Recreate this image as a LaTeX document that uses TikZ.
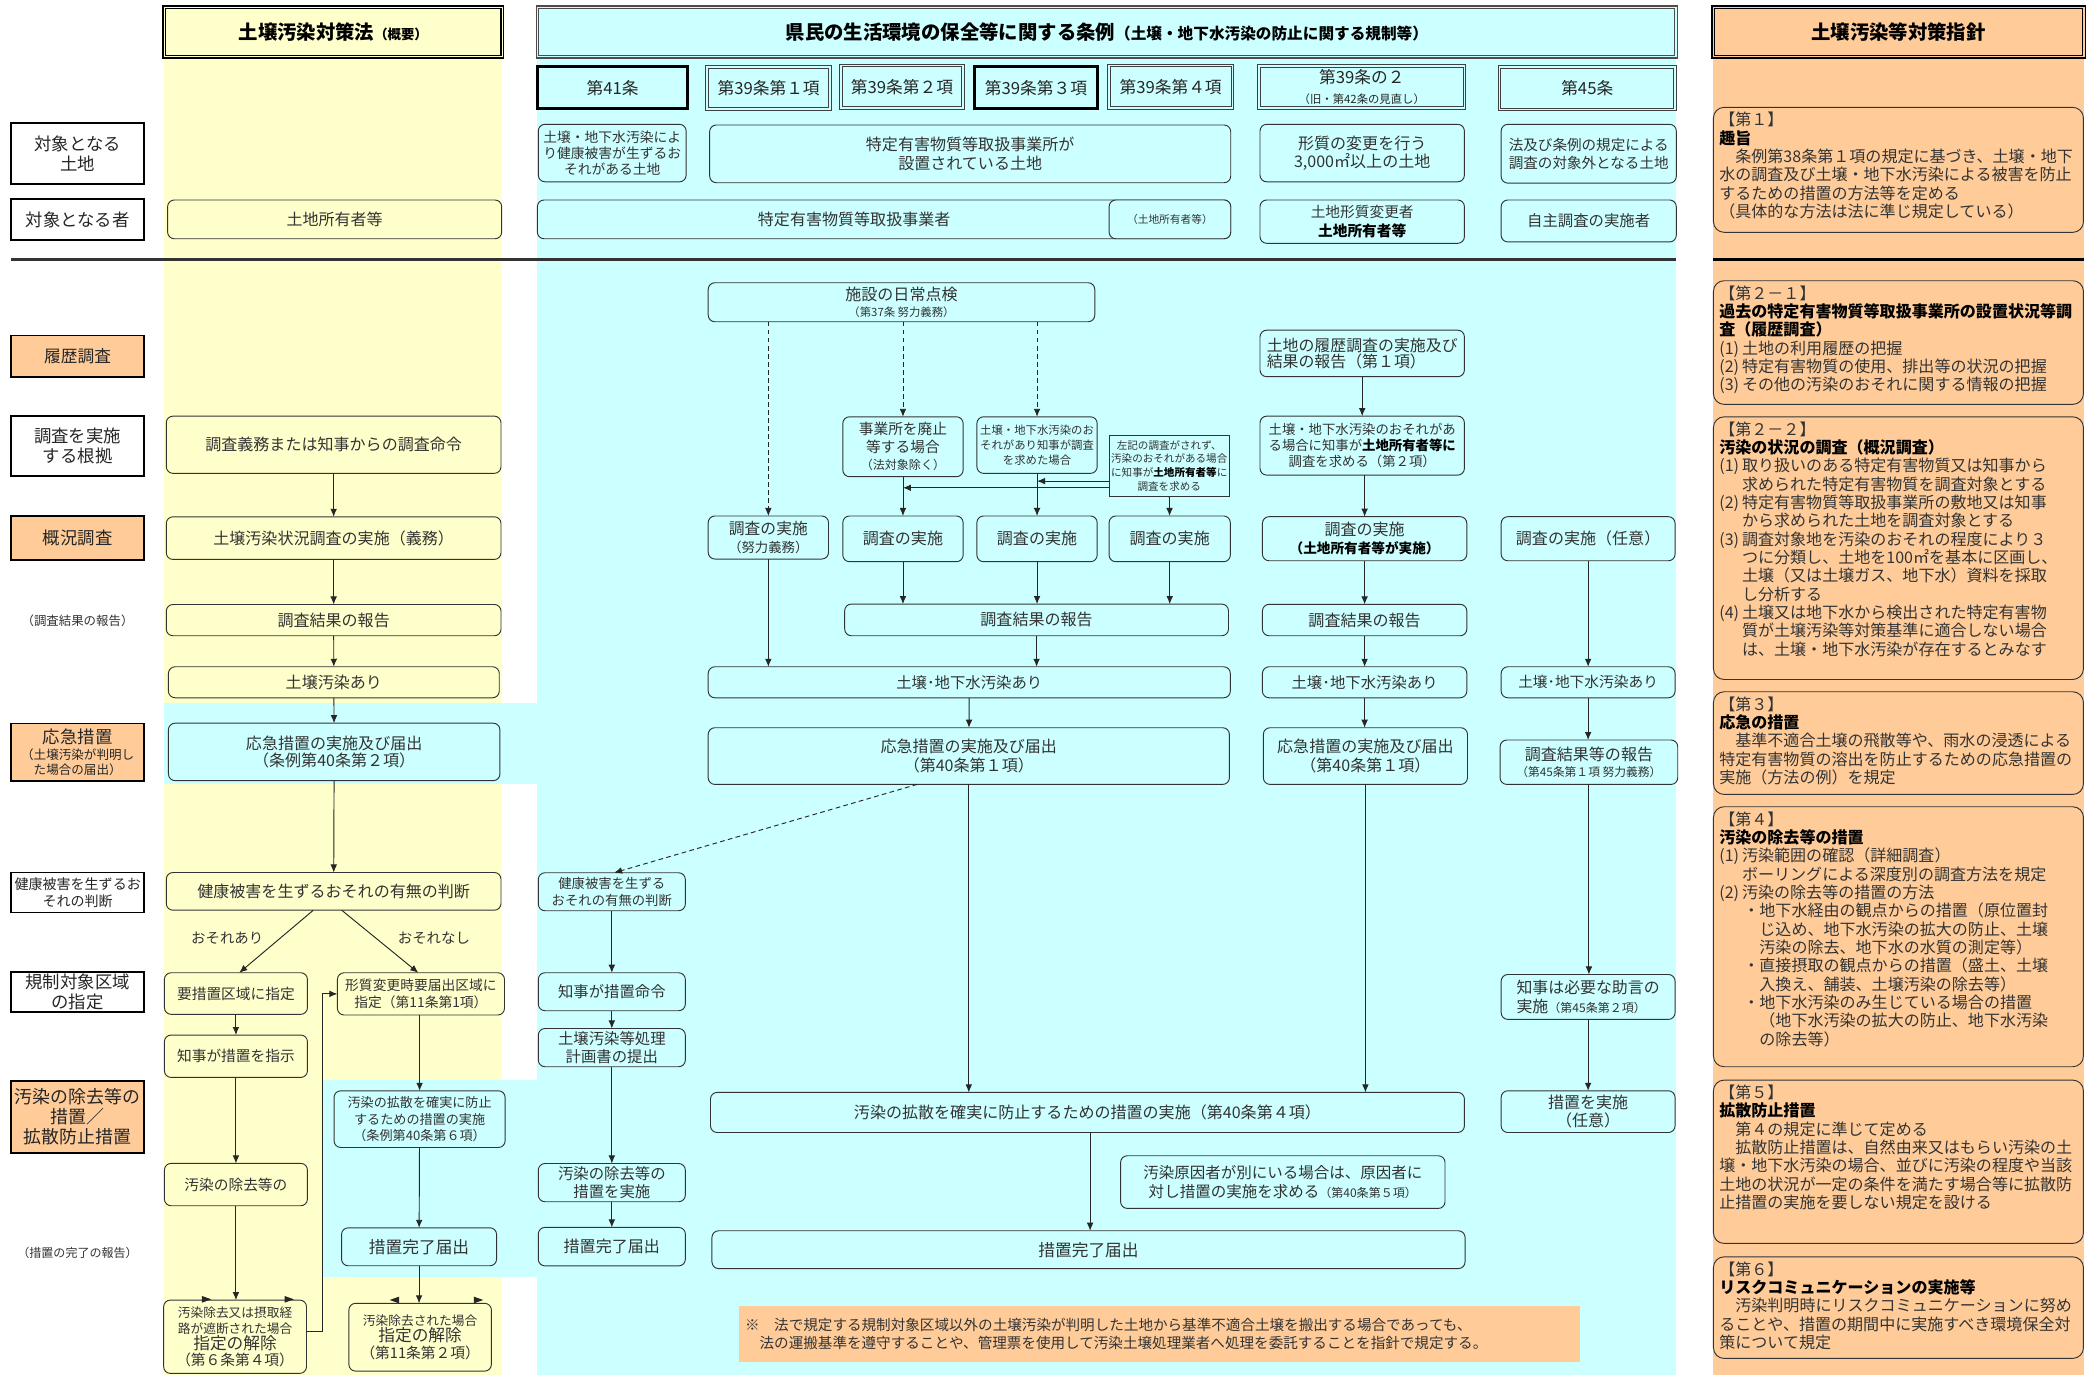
\documentclass[tikz,border=0pt]{standalone}
\usepackage{fontspec}
\setmainfont{Noto Sans CJK JP}
\usetikzlibrary{arrows.meta}
\definecolor{ycol}{HTML}{FFFFCC}
\definecolor{ccol}{HTML}{CCFFFF}
\definecolor{ocol}{HTML}{FFCC99}
\newcommand\fsz[2]{\fontsize{#1}{#2}\selectfont}
\newcommand\mybox[7]{\node[#6, minimum width={(#4)-(#2)}, minimum height={(#5)-(#3)}] (#1) at ({((#2)+(#4))/2},{((#3)+(#5))/2}) {#7};}
\newcommand\numlab[1]{\makebox[17pt][l]{#1}}
\newcommand\indA{\hspace*{17pt}}
\tikzset{
 bx/.style={draw=black!80, line width=0.7pt, rounded corners=5pt, inner sep=0.5pt, outer sep=0pt, align=center, text=black!80, font=\fsz{12}{14}},
 yb/.style={bx, fill=ycol},
 cb/.style={bx, fill=ccol},
 ob/.style={bx, fill=ocol, rounded corners=8pt},
 lab/.style={draw=black, line width=1.4pt, fill=white, inner sep=0.5pt, outer sep=0pt, align=center, text=black!85, font=\fsz{13}{15}},
 labo/.style={lab, fill=ocol},
 hdr/.style={draw=black, line width=1.1pt, double distance=0.8pt, inner sep=0pt, outer sep=0pt, align=center, text=black, font=\bfseries\fsz{14.5}{16}},
 hdrc/.style={draw=black!70, line width=0.8pt, double distance=1.2pt, inner sep=0pt, outer sep=0pt, align=center, text=black, font=\bfseries\fsz{14.5}{16}},
 artd/.style={draw=black!75, line width=0.7pt, double=ccol, double distance=1.3pt, fill=ccol, inner sep=0pt, outer sep=0pt, align=center, text=black!85, font=\fsz{12.5}{14}},
 artt/.style={draw=black, line width=2.2pt, fill=ccol, inner sep=0pt, outer sep=0pt, align=center, text=black!85, font=\fsz{12.5}{14}},
 arr/.style={draw=black!85, line width=0.7pt, -{Latex[length=6pt,width=5pt]}},
 darr/.style={arr, dash pattern=on 3.5pt off 2.5pt},
 plain/.style={inner sep=0pt, align=center, text=black!80},
 rtxt/.style={anchor=north west, inner sep=0pt, align=left, text=black!80, font=\fsz{12}{13.7}},
}
\begin{document}
\begin{tikzpicture}[x=1pt,y=-1pt]
\useasboundingbox (0,0) rectangle (1568,1028.6);
\fill[white] (0,0) rectangle (1568,1028.6);
% column backgrounds
\fill[ycol] (123,42) rectangle (375.6,1028.6);
\fill[ccol] (402,42) rectangle (1254,1028.6);
\fill[ocol] (1281.5,42) rectangle (1559,1028.6);
\fill[ccol] (123,526.2) rectangle (402,586.8);
\fill[ccol] (241,808) rectangle (402,955);
% separators
\draw[line width=2.5pt, black!80] (8.5,194) -- (1254,194);
\draw[line width=2.5pt, black] (1281.5,194) -- (1559,194);
% headers
\mybox{yhdr}{123}{5.5}{375.6}{42.4}{hdr, fill=ycol, double=ycol}{土壌汚染対策法{\fsz{10}{12}（概要）}}
\mybox{chdr}{402}{5.5}{1254}{42.4}{hdrc, fill=ccol, double=ccol}{県民の生活環境の保全等に関する条例{\fsz{11.7}{13}（土壌・地下水汚染の防止に関する規制等）}}
\mybox{ohdr}{1281.5}{5.5}{1559}{42.4}{hdr, fill=ocol, double=ocol}{土壌汚染等対策指針}
% article headers
\mybox{a41}{402}{50}{514.5}{81.5}{artt}{第41条}
\mybox{a391}{529}{50}{621}{81.5}{artd}{第39条第１項}
\mybox{a392}{629}{49}{720.5}{81}{artd}{第39条第２項}
\mybox{a393}{729}{50}{821}{81.5}{artt}{第39条第３項}
\mybox{a394}{829.5}{49}{922}{81}{artd}{第39条第４項}
\mybox{a3902}{942}{49.4}{1095.5}{81}{artd}{第39条の２\\[1pt]{\fsz{8.5}{10}（旧・第42条の見直し）}}
\mybox{a45}{1121.7}{50}{1253.1}{82}{artd}{第45条}
% left labels
\mybox{L1}{8.5}{92.3}{107.7}{137.7}{lab}{対象となる\\土地}
\mybox{L2}{8.5}{149}{107.7}{179.6}{lab}{対象となる者}
\mybox{L3}{8.5}{251}{107.7}{282}{labo, font=\fsz{12.5}{14}}{履歴調査}
\mybox{L4}{8.5}{311}{107.7}{356}{lab}{調査を実施\\する根拠}
\mybox{L5}{8.5}{386}{107.7}{419}{labo}{概況調査}
\node[plain, font=\fsz{9.3}{11}] (L6) at (58,464.6) {（調査結果の報告）};
\mybox{L7}{8.5}{541.2}{107.7}{584.1}{labo, font=\fsz{9.4}{11}}{{\fsz{13}{14}応急措置}\\[1.3pt]（土壌汚染が判明し\\た場合の届出）}
\mybox{L8}{8.5}{652.7}{107.7}{682.6}{lab, font=\fsz{10.5}{12.5}}{健康被害を生ずるお\\それの判断}
\mybox{L9}{8.5}{727}{107.7}{757}{lab}{規制対象区域\\の指定}
\mybox{L10}{8.5}{808.5}{107.7}{862.8}{labo, font=\fsz{13.4}{15}}{汚染の除去等の\\措置／\\拡散防止措置}
\node[plain, font=\fsz{9}{11}] (L11) at (58,937) {（措置の完了の報告）};
% top rows
\mybox{l41}{402.7}{93}{513.3}{136}{cb, font=\fsz{10.3}{12}}{土壌・地下水汚染によ\\り健康被害が生ずるお\\それがある土地}
\mybox{l39}{530.9}{93.5}{920.7}{136.7}{cb, font=\fsz{12}{14.5}}{特定有害物質等取扱事業所が\\設置されている土地}
\mybox{l392}{942.6}{93}{1095.5}{136}{cb, font=\fsz{12}{13.7}}{形質の変更を行う\\3,000㎡以上の土地}
\mybox{l45}{1123}{93}{1254}{137}{cb, font=\fsz{10.9}{13.7}}{法及び条例の規定による\\調査の対象外となる土地}
\mybox{yown}{125.4}{149.6}{375.3}{178.6}{yb}{土地所有者等}
\mybox{c39p}{402}{149.6}{920.7}{178.6}{cb}{}
\node[plain, font=\fsz{12}{14}] (c39t) at (639,164.1) {特定有害物質等取扱事業者};
\mybox{c39o}{829.7}{149.6}{920.7}{178.6}{cb, font=\fsz{8}{10}}{（土地所有者等）}
\mybox{c392p}{942.6}{149.6}{1095.5}{182}{cb, font=\fsz{11}{13.7}}{土地形質変更者\\{\bfseries\color{black}土地所有者等}}
\mybox{c45p}{1123}{149.6}{1254}{181}{cb, font=\fsz{11.5}{14}}{自主調査の実施者}
% yellow flow
\mybox{y1}{124.4}{311.3}{374.8}{354.1}{yb}{調査義務または知事からの調査命令}
\mybox{y2}{124.4}{386.6}{374.8}{418.5}{yb}{土壌汚染状況調査の実施（義務）}
\mybox{y3}{124.4}{452.2}{374.8}{475.6}{yb}{調査結果の報告}
\mybox{y4}{126}{498.8}{373.5}{522}{yb}{土壌汚染あり}
\mybox{y5}{126}{541}{374}{584}{cb, font=\fsz{12}{13}}{応急措置の実施及び届出\\（条例第40条第２項）}
\mybox{y6}{124.4}{652.7}{374.8}{680.9}{yb}{健康被害を生ずるおそれの有無の判断}
\node[plain, font=\fsz{10.8}{12}] (yari) at (170,702) {おそれあり};
\node[plain, font=\fsz{10.8}{12}] (ynashi) at (324.6,702) {おそれなし};
\mybox{y7}{123}{727.7}{230}{758.8}{yb, font=\fsz{11}{13}}{要措置区域に指定}
\mybox{y8}{252.4}{727.7}{377.4}{759.3}{yb, font=\fsz{10.3}{13}}{形質変更時要届出区域に\\指定（第11条第1項）}
\mybox{y9}{123}{774.3}{230}{806}{yb, font=\fsz{11}{13}}{知事が措置を指示}
\mybox{y10}{123}{870.3}{230}{902}{yb, font=\fsz{11}{13}}{汚染の除去等の}
\mybox{y11}{122.4}{972.6}{229.3}{1027.4}{yb, font=\fsz{9.5}{12}}{汚染除去又は摂取経\\路が遮断された場合\\{\fsz{12.5}{13}指定の解除}\\{\fsz{11}{13}（第６条第４項）}}
\mybox{y12}{249.9}{816}{377.9}{858.4}{cb, font=\fsz{9.8}{12.2}}{汚染の拡散を確実に防止\\するための措置の実施\\（条例第40条第６項）}
\mybox{y13}{255.5}{918.5}{371.5}{946.9}{cb, font=\fsz{12.5}{14}}{措置完了届出}
\mybox{y14}{261}{975}{367.6}{1025.7}{yb, font=\fsz{9.5}{12.5}}{汚染除去された場合\\{\fsz{12.5}{13}指定の解除}\\{\fsz{11}{13}（第11条第２項）}}
% cyan flow
\mybox{nichijo}{529.8}{211.5}{819}{240.7}{cb, font=\fsz{12}{12.5}}{施設の日常点検\\{\fsz{8.5}{10}（第37条\ 努力義務）}}
\mybox{haishi}{630.5}{311.8}{720.5}{356.6}{cb, font=\fsz{11}{13.2}}{事業所を廃止\\等する場合\\{\fsz{9}{11}（法対象除く）}}
\mybox{osore}{730.8}{311.8}{820.8}{354.1}{cb, font=\fsz{8.5}{11.3}}{土壌・地下水汚染のお\\それがあり知事が調査\\を求めた場合}
\mybox{saki}{829.7}{325.5}{919.7}{371.1}{cb, sharp corners, font=\fsz{7.9}{10.2}}{左記の調査がされず、\\汚染のおそれがある場合\\に知事が{\bfseries\color{black}土地所有者等}に\\調査を求める}
\mybox{s1}{529.8}{386}{619.8}{418.2}{cb, font=\fsz{11.8}{13.7}}{調査の実施\\{\fsz{10}{12}（努力義務）}}
\mybox{s2}{630.5}{386}{720.5}{420.2}{cb}{調査の実施}
\mybox{s3}{730.8}{386}{820.8}{420.2}{cb}{調査の実施}
\mybox{s4}{829.7}{386}{920.4}{420.2}{cb}{調査の実施}
\mybox{rep}{631.9}{451.9}{919}{475.6}{cb}{調査結果の報告}
\mybox{ari}{529.8}{498.8}{920.4}{522}{cb, font=\fsz{11.5}{14}}{土壌･地下水汚染あり}
\mybox{ou}{529.8}{544.4}{919.7}{586.8}{cb, font=\fsz{12}{13.7}}{応急措置の実施及び届出\\（第40条第１項）}
\mybox{ken2}{402.7}{652.9}{512.7}{681.3}{cb, font=\fsz{10}{12.5}}{健康被害を生ずる\\おそれの有無の判断}
\mybox{mei}{402.7}{727.7}{512.7}{756.1}{cb, font=\fsz{11.5}{14}}{知事が措置命令}
\mybox{keikaku}{402.7}{769.4}{512.7}{798}{cb, font=\fsz{11.5}{14}}{土壌汚染等処理\\計画書の提出}
\mybox{jokyo}{402.7}{870.4}{512.7}{899}{cb, font=\fsz{11.5}{14}}{汚染の除去等の\\措置を実施}
\mybox{kan1}{402.7}{918.2}{512.7}{947}{cb}{措置完了届出}
\mybox{kakusan}{531.5}{817.2}{1095.5}{847.2}{cb}{汚染の拡散を確実に防止するための措置の実施（第40条第４項）}
\mybox{gen}{838.3}{864.6}{1081}{904}{cb, font=\fsz{11.6}{13.7}}{汚染原因者が別にいる場合は、原因者に\\対し措置の実施を求める{\fsz{9}{11}（第40条第５項）}}
\mybox{kan2}{532.6}{920.7}{1096}{949}{cb, font=\fsz{12.5}{14}}{措置完了届出}
\mybox{note}{553.2}{977.1}{1181.6}{1018.8}{draw=none, fill=ocol, inner sep=4pt, text width=620pt, align=left, text=black!80, font=\fsz{10.9}{13}}{※　法で規定する規制対象区域以外の土壌汚染が判明した土地から基準不適合土壌を搬出する場合であっても、\\　法の運搬基準を遵守することや、管理票を使用して汚染土壌処理業者へ処理を委託することを指針で規定する。}
% 39-2 column
\mybox{r1}{942.6}{247}{1095.5}{281.8}{cb, font=\fsz{11.9}{12.5}, align=left}{土地の履歴調査の実施及び\\結果の報告（第１項）}
\mybox{r2}{942.6}{311.3}{1095.5}{355.4}{cb, font=\fsz{10}{12}}{土壌・地下水汚染のおそれがあ\\る場合に知事が{\bfseries\color{black}土地所有者等に}\\調査を求める（第２項）}
\mybox{r3}{944.4}{386.5}{1097.3}{419.5}{cb, font=\fsz{12}{13.7}}{調査の実施\\{\fsz{10.2}{12}\bfseries\color{black}（土地所有者等が実施）}}
\mybox{r4}{944.4}{452.1}{1097.3}{475.6}{cb}{調査結果の報告}
\mybox{r5}{944.4}{498.8}{1097.3}{522}{cb, font=\fsz{11.5}{14}}{土壌･地下水汚染あり}
\mybox{r6}{945.1}{544.4}{1097.8}{586.8}{cb, font=\fsz{12}{13.7}}{応急措置の実施及び届出\\（第40条第１項）}
% 45 column
\mybox{q1}{1123}{386.5}{1253.1}{419.5}{cb}{調査の実施（任意）}
\mybox{q2}{1123}{498.8}{1253.1}{522}{cb, font=\fsz{11}{13}}{土壌･地下水汚染あり}
\mybox{q3}{1122.2}{553.6}{1255.1}{586.8}{cb, font=\fsz{12}{12.5}}{調査結果等の報告\\{\fsz{8.8}{10}（第45条第１項\ 努力義務）}}
\mybox{q4}{1123}{729}{1253.1}{762.6}{cb, font=\fsz{11.9}{14.7}, align=left}{知事は必要な助言の\\実施{\fsz{9}{11}（第45条第２項）}}
\mybox{q5}{1123}{816}{1253.1}{847.2}{cb, font=\fsz{12}{13.7}}{措置を実施\\（任意）}
% guideline column
\mybox{g1}{1281.8}{80.3}{1558.6}{173.8}{ob}{}
\node[rtxt] (g1t) at (1286,83.8) {【第１】\\{\bfseries\color{black}趣旨}\\　条例第38条第１項の規定に基づき、土壌・地下\\水の調査及び土壌・地下水汚染による被害を防止\\するための措置の方法等を定める\\（具体的な方法は法に準じ規定している）};
\mybox{g21}{1281.8}{210}{1558.6}{302.5}{ob}{}
\node[rtxt] (g21t) at (1286,213.5) {【第２－１】\\{\bfseries\color{black}過去の特定有害物質等取扱事業所の設置状況等調}\\{\bfseries\color{black}査（履歴調査）}\\\numlab{(1)}土地の利用履歴の把握\\\numlab{(2)}特定有害物質の使用、排出等の状況の把握\\\numlab{(3)}その他の汚染のおそれに関する情報の把握};
\mybox{g22}{1281.8}{311.8}{1558.6}{508.3}{ob}{}
\node[rtxt] (g22t) at (1286,315.3) {【第２－２】\\{\bfseries\color{black}汚染の状況の調査（概況調査）}\\\numlab{(1)}取り扱いのある特定有害物質又は知事から\\\indA 求められた特定有害物質を調査対象とする\\\numlab{(2)}特定有害物質等取扱事業所の敷地又は知事\\\indA から求められた土地を調査対象とする\\\numlab{(3)}調査対象地を汚染のおそれの程度により３\\\indA つに分類し、土地を100㎡を基本に区画し、\\\indA 土壌（又は土壌ガス、地下水）資料を採取\\\indA し分析する\\\numlab{(4)}土壌又は地下水から検出された特定有害物\\\indA 質が土壌汚染等対策基準に適合しない場合\\\indA は、土壌・地下水汚染が存在するとみなす};
\mybox{g3}{1281.8}{517.5}{1558.6}{594.3}{ob}{}
\node[rtxt] (g3t) at (1286,521) {【第３】\\{\bfseries\color{black}応急の措置}\\　基準不適合土壌の飛散等や、雨水の浸透による\\特定有害物質の溶出を防止するための応急措置の\\実施（方法の例）を規定};
\mybox{g4}{1281.8}{603.5}{1558.6}{798}{ob}{}
\node[rtxt] (g4t) at (1286,607) {【第４】\\{\bfseries\color{black}汚染の除去等の措置}\\\numlab{(1)}汚染範囲の確認（詳細調査）\\\indA ボーリングによる深度別の調査方法を規定\\\numlab{(2)}汚染の除去等の措置の方法\\\hspace*{18pt}・地下水経由の観点からの措置（原位置封\\\hspace*{30pt}じ込め、地下水汚染の拡大の防止、土壌\\\hspace*{30pt}汚染の除去、地下水の水質の測定等）\\\hspace*{18pt}・直接摂取の観点からの措置（盛土、土壌\\\hspace*{30pt}入換え、舗装、土壌汚染の除去等）\\\hspace*{18pt}・地下水汚染のみ生じている場合の措置\\\hspace*{30pt}（地下水汚染の拡大の防止、地下水汚染\\\hspace*{30pt}の除去等）};
\mybox{g5}{1281.8}{808}{1558.6}{930.2}{ob}{}
\node[rtxt] (g5t) at (1286,811.5) {【第５】\\{\bfseries\color{black}拡散防止措置}\\　第４の規定に準じて定める\\　拡散防止措置は、自然由来又はもらい汚染の土\\壌・地下水汚染の場合、並びに汚染の程度や当該\\土地の状況が一定の条件を満たす場合等に拡散防\\止措置の実施を要しない規定を設ける};
\mybox{g6}{1281.8}{940.2}{1558.6}{1016.2}{ob}{}
\node[rtxt] (g6t) at (1286,943.7) {【第６】\\{\bfseries\color{black}リスクコミュニケーションの実施等}\\　汚染判明時にリスクコミュニケーションに努め\\ることや、措置の期間中に実施すべき環境保全対\\策について規定};
% yellow connectors
\draw[arr] (y1) -- (y2);
\draw[arr] (y2) -- (y3);
\draw[arr] (y3) -- (y4);
\draw[arr] (y4) -- (y5);
\draw[arr] (y5) -- (y6);
\draw[arr] ([xshift=-15.2pt]y6.south) -- ([xshift=2.5pt]y7.north);
\draw[arr] ([xshift=6pt]y6.south) -- ([xshift=-2pt]y8.north);
\draw[arr] (y7) -- (y9);
\draw[arr] (y9) -- (y10);
\draw[arr] (y10.south) -- (y10.south |- y11.north);
\draw[arr] ([yshift=4pt]y11.east) -- ++(12.3,0) |- (y8.west);
\draw[arr] (y12.north |- y8.south) -- (y12.north);
\draw[arr] (y12) -- (y13);
\draw[arr] (y13.south) -- (y13.south |- y14.north);
\foreach \tx in {154.6,216.4} \fill[black!85] (\tx-3.5,969.5) -- (\tx+3.5,972) -- (\tx-3.5,974.5) -- cycle;
\fill[black!85] (298.5,970) -- (291.5,972.5) -- (298.5,975) -- cycle;
\fill[black!85] (354.5,970) -- (361.5,972.5) -- (354.5,975) -- cycle;
% cyan connectors
\draw[darr] (nichijo.south -| s1.north) -- (s1.north);
\draw[darr] (nichijo.south -| haishi.north) -- (haishi.north);
\draw[darr] (nichijo.south -| osore.north) -- (osore.north);
\draw[arr] (haishi) -- (s2);
\draw[arr] (osore) -- (s3);
\draw[arr] (saki) -- (s4);
\draw[arr] ([yshift=-11.6pt]saki.west) -- ([yshift=-11.6pt]saki.west -| osore.south);
\draw[arr] ([yshift=-16.6pt]saki.west) -- ([yshift=-16.6pt]saki.west -| haishi.south);
\draw[arr] (s2.south) -- (s2.south |- rep.north);
\draw[arr] (s3.south) -- (s3.south |- rep.north);
\draw[arr] (s4.south) -- (s4.south |- rep.north);
\draw[arr] (s1.south) -- (s1.south |- ari.north);
\draw[arr] (rep.south) -- (rep.south |- ari.north);
\draw[arr] (ari) -- (ou);
\draw[darr] ([xshift=-38.65pt]ou.south) -- ([xshift=1.7pt]ken2.north);
\draw[arr] (ou.south) -- (ou.south |- kakusan.north);
\draw[arr] (ken2) -- (mei);
\draw[arr] (mei) -- (keikaku);
\draw[arr] (keikaku) -- (jokyo);
\draw[arr] (jokyo) -- (kan1);
\draw[arr] ([xshift=2pt]kakusan.south) -- ([xshift=2pt]kakusan.south |- kan2.north);
\draw[arr] (r1.south -| r2.north) -- (r2.north);
\draw[arr] (r2.south -| r3.north) -- (r3.north);
\draw[arr] (r3) -- (r4);
\draw[arr] (r4) -- (r5);
\draw[arr] (r5.south) -- (r5.south |- r6.north);
\draw[arr] (r6.south) -- (r6.south |- kakusan.north);
\draw[arr] (q1) -- (q2);
\draw[arr] (q2.south) -- (q2.south |- q3.north);
\draw[arr] (q3.south) -- (q3.south |- q4.north);
\draw[arr] (q4) -- (q5);
\end{tikzpicture}
\end{document}
